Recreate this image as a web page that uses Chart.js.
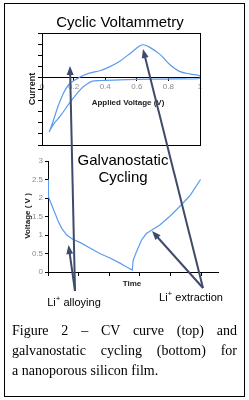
<!DOCTYPE html>
<html>
<head>
<meta charset="utf-8">
<script src="https://cdn.jsdelivr.net/npm/chart.js@4.4.0/dist/chart.umd.min.js"></script>
<style>
    body { margin: 0; background: #fff; }
    #page { position: relative; width: 249px; height: 400px; overflow: hidden; font-family: Arial, "Liberation Sans", sans-serif; }
    .frame { position: absolute; left: 4px; top: 3px; width: 239px; height: 392px; border: 1px solid #000; }
    .box { position: absolute; left: 0; }
    .txt { position: absolute; white-space: nowrap; color: #000; transform: translate(-50%, -50%); }
    .axis { font-weight: bold; font-size: 8px; color: #222; }
    .title { font-size: 15px; line-height: 17px; text-align: center; }
    .label { font-size: 11px; }
    .label sup { font-size: 8px; line-height: 0; }
    .caption { position: absolute; left: 12px; top: 321px; width: 225px; font-family: "Liberation Serif", "Times New Roman", serif; font-size: 14px; line-height: 20px; color: #000; }
    .caption .j { text-align: justify; text-align-last: justify; white-space: nowrap; }
    svg { position: absolute; left: 0; top: 0; }
</style>
</head>
<body>
<div id="page">
    <div class="frame"></div>
    <div class="box" style="top:0;width:249px;height:160px;"><canvas id="cvChart"></canvas></div>
    <div class="box" style="top:150px;width:249px;height:145px;"><canvas id="gcChart"></canvas></div>

    <div class="txt title" style="left:120px;top:21px;">Cyclic Voltammetry</div>
    <div class="txt axis" style="left:128px;top:102px;">Applied Voltage (V)</div>
    <div class="txt axis" style="left:32px;top:89px;font-size:9px;transform:translate(-50%,-50%) rotate(-90deg);">Current</div>

    <div class="txt title" style="left:123px;top:168px;">Galvanostatic<br>Cycling</div>
    <div class="txt axis" style="left:27px;top:216px;transform:translate(-50%,-50%) rotate(-90deg);">Voltage ( V )</div>
    <div class="txt axis" style="left:132px;top:283px;">Time</div>

    <div class="txt label" style="left:74px;top:302px;">Li<sup>+</sup> alloying</div>
    <div class="txt label" style="left:191px;top:297px;">Li<sup>+</sup> extraction</div>

    <div class="caption">
        <div class="j">Figure 2 &ndash; CV curve (top) and</div>
        <div class="j">galvanostatic cycling (bottom) for</div>
        <div>a nanoporous silicon film.</div>
    </div>

    <svg id="arrows" width="249" height="400"></svg>
</div>

<script>
// CV loop: sweep up the upper branch, then back along the lower one
const cvVoltage = [0.045, 0.07, 0.10, 0.135, 0.17, 0.22, 0.26, 0.30, 0.37, 0.43, 0.49, 0.56, 0.62, 0.64, 0.68, 0.75, 0.81, 0.87, 0.94, 1.0,
    1.0, 0.85, 0.70, 0.49, 0.37, 0.32, 0.28, 0.24, 0.177, 0.114, 0.07, 0.045];
const cvCurrent = [-4.85, -3.9, -2.6, -1.4, -0.6, -0.1, 0.2, 0.42, 0.65, 1.0, 1.46, 2.2, 2.86, 2.95, 2.74, 2.05, 1.16, 0.57, 0.33, 0.18,
    -0.06, -0.1, -0.12, -0.18, -0.24, -0.3, -0.6, -1.1, -2.2, -3.45, -4.2, -4.85];
const cvVoltageTicks = [0, 0.2, 0.4, 0.6, 0.8, 1];
const cvCurrentTicks = [-6, -5, -4, -3, -2, -1, 0, 1, 2, 3, 4];

// galvanostatic cycle: discharge then charge
const gcTime = [0, 0.01, 0.02, 0.12, 0.23, 0.34, 0.45, 0.61, 0.82, 1.04, 1.37, 1.69, 2.02, 2.35, 2.51, 2.73,
    2.75, 2.78, 2.89, 3.05, 3.21, 3.38, 3.65, 3.97, 4.30, 4.63, 4.98];
const gcVoltage = [2.5, 2.13, 2.03, 1.81, 1.59, 1.36, 1.18, 1.0, 0.88, 0.80, 0.65, 0.50, 0.38, 0.24, 0.16, 0.06,
    0.05, 0.32, 0.55, 0.86, 1.04, 1.13, 1.27, 1.5, 1.77, 2.06, 2.5];
const gcVoltageTicks = [0, 0.5, 1, 1.5, 2, 2.5, 3];
const gcTimeTicks = [0, 1, 2, 3, 4, 5];

const lineBlue = "#5b9bf0";
const tickGray = "#8c8c8c";

function toPoints(xs, ys) {
    return xs.map((x, i) => ({x: x, y: ys[i]}));
}

function setTicks(list) {
    return (axis) => {
        axis.ticks = list.map((v) => ({value: v}));
    };
}

// box round the CV plot
const frameBox = {
    id: "frameBox",
    afterDraw(chart) {
        const {ctx, chartArea: a} = chart;
        ctx.save();
        ctx.strokeStyle = "#000";
        ctx.lineWidth = 1;
        ctx.strokeRect(Math.round(a.left) + 0.5, Math.round(a.top) + 0.5,
            Math.round(a.right - a.left), Math.round(a.bottom - a.top));
        ctx.restore();
    },
};

new Chart(document.getElementById("cvChart"), {
    type: "line",
    data: {
        datasets: [{
            data: toPoints(cvVoltage, cvCurrent),
            borderColor: lineBlue,
            borderWidth: 1.2,
            pointRadius: 0,
            tension: 0.35,
            fill: false,
        }],
    },
    options: {
        responsive: true,
        maintainAspectRatio: false,
        animation: false,
        devicePixelRatio: 1,
        layout: {padding: {left: 0, top: 33, right: 49, bottom: 15}},
        plugins: {legend: {display: false}, tooltip: {enabled: false}},
        scales: {
            x: {
                type: "linear",
                position: {y: 0},
                min: 0,
                max: 1,
                z: 1,
                afterBuildTicks: setTicks(cvVoltageTicks),
                ticks: {
                    color: tickGray,
                    font: {family: "Arial", size: 8},
                    padding: 1,
                    maxRotation: 0,
                    callback: (v) => String(v),
                },
                grid: {drawOnChartArea: false, tickLength: 3, color: "#000"},
                border: {color: "#000", width: 1},
            },
            y: {
                type: "linear",
                min: -6,
                max: 4,
                afterBuildTicks: setTicks(cvCurrentTicks),
                afterFit: (scale) => { scale.width = 42; },
                ticks: {display: false},
                grid: {drawOnChartArea: false, tickLength: 4, color: "#000"},
                border: {color: "#000", width: 1},
            },
        },
    },
    plugins: [frameBox],
});

new Chart(document.getElementById("gcChart"), {
    type: "line",
    data: {
        datasets: [{
            data: toPoints(gcTime, gcVoltage),
            borderColor: lineBlue,
            borderWidth: 1.2,
            pointRadius: 0,
            tension: 0,
            fill: false,
        }],
    },
    options: {
        responsive: true,
        maintainAspectRatio: false,
        animation: false,
        devicePixelRatio: 1,
        layout: {padding: {left: 0, top: 11, right: 31, bottom: 19}},
        plugins: {legend: {display: false}, tooltip: {enabled: false}},
        scales: {
            x: {
                type: "linear",
                min: 0,
                max: 5.55,
                afterBuildTicks: setTicks(gcTimeTicks),
                afterFit: (scale) => { scale.height = 4; },
                ticks: {display: false},
                grid: {drawOnChartArea: false, tickLength: 4, color: "#000"},
                border: {color: "#000", width: 1},
            },
            y: {
                type: "linear",
                min: 0,
                max: 3,
                afterBuildTicks: setTicks(gcVoltageTicks),
                afterFit: (scale) => { scale.width = 48; },
                ticks: {
                    color: tickGray,
                    font: {family: "Arial", size: 8},
                    padding: 2,
                    callback: (v) => String(v),
                },
                grid: {drawOnChartArea: false, tickLength: 3, color: "#000"},
                border: {color: "#000", width: 1},
            },
        },
    },
});

// pointer arrows from the two labels
const arrowColor = "#3f4b6b";
const arrows = [
    [75, 291, 70, 66],
    [75, 291, 68.5, 245],
    [203, 288, 143, 49],
    [203, 288, 152, 231],
];
const svg = document.getElementById("arrows");
const ns = "http://www.w3.org/2000/svg";
arrows.forEach(([x1, y1, x2, y2]) => {
    const len = Math.hypot(x2 - x1, y2 - y1);
    const ux = (x2 - x1) / len;
    const uy = (y2 - y1) / len;
    const headLen = 9;
    const headW = 3.5;
    const bx = x2 - ux * headLen;
    const by = y2 - uy * headLen;

    const line = document.createElementNS(ns, "line");
    line.setAttribute("x1", x1);
    line.setAttribute("y1", y1);
    line.setAttribute("x2", bx + ux * 1);
    line.setAttribute("y2", by + uy * 1);
    line.setAttribute("stroke", arrowColor);
    line.setAttribute("stroke-width", 2);
    svg.appendChild(line);

    const head = document.createElementNS(ns, "polygon");
    const pts = [
        [x2, y2],
        [bx - uy * headW, by + ux * headW],
        [bx + uy * headW, by - ux * headW],
    ];
    head.setAttribute("points", pts.map((p) => p.join(",")).join(" "));
    head.setAttribute("fill", arrowColor);
    svg.appendChild(head);
});
</script>
</body>
</html>
